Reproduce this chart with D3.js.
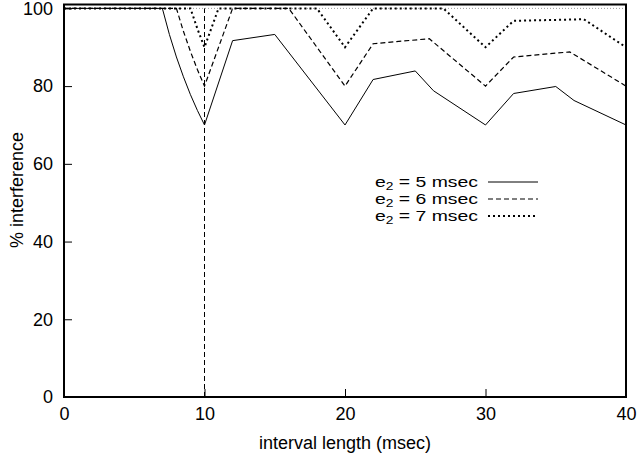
<!DOCTYPE html>
<html>
<head>
<meta charset="utf-8">
<script src="https://cdn.jsdelivr.net/npm/d3@7"></script>
<style>
  body { margin: 0; background: #fff; }
  text { font-family: "Liberation Sans", Arial, Helvetica, sans-serif; fill: #000; }
</style>
</head>
<body>
<div id="chart"></div>
<script>
// interference vs interval length, one series per e2

// x ticks / y ticks
let xTicks = [0, 10, 20, 30, 40];
let yTicks = [0, 20, 40, 60, 80, 100];

// e2 = 5 msec (solid)
let e5x = [0, 7, 7.5, 8, 8.5, 9, 9.5, 10, 12, 15, 20, 22, 25, 26.3, 30, 32, 35, 36.3, 40];
let e5y = [100, 100, 93.3, 87.5, 82.4, 77.8, 73.7, 70, 91.7, 93.3, 70, 81.7, 83.9, 78.8, 70, 78.1, 79.9, 76.3, 70];

// e2 = 6 msec (dashed)
let e6x = [0, 8, 8.5, 9, 9.5, 10, 12, 16, 20, 22, 26, 30, 32, 36, 40];
let e6y = [100, 100, 94.1, 88.9, 84.2, 80, 100, 100, 80, 90.9, 92.2, 80, 87.5, 88.8, 80];

// e2 = 7 msec (dotted)
let e7x = [0, 9, 9.5, 10, 11, 18, 20, 22, 27, 30, 32, 37, 40];
let e7y = [100, 100, 94.7, 90, 100, 100, 90, 100, 100, 90, 96.8, 97.2, 90];

let seriesNames = ["5", "6", "7"];
let dashes = [null, "5,3", "2,3"];
let widths = [1, 1.2, 2];

let series = [
  {x: e5x, y: e5y},
  {x: e6x, y: e6y},
  {x: e7x, y: e7y}
];

let w = 641, h = 456;
let margin = {top: 4.5, right: 15, bottom: 59, left: 64};
let fs = "18px";

let svg = d3.select("#chart").append("svg")
  .attr("width", w)
  .attr("height", h);

let x = d3.scaleLinear().domain([0, 40]).range([margin.left, w - margin.right]);
let y = d3.scaleLinear().domain([0, 101]).range([h - margin.bottom, margin.top]);

// faint reference line at 100
svg.append("line")
  .attr("x1", x(0)).attr("x2", x(40))
  .attr("y1", y(100)).attr("y2", y(100))
  .attr("stroke", "#999")
  .attr("stroke-width", 1)
  .attr("stroke-dasharray", "1,2");

// vertical marker at 10
svg.append("line")
  .attr("x1", x(10)).attr("x2", x(10))
  .attr("y1", y(0)).attr("y2", y(100))
  .attr("stroke", "#000")
  .attr("stroke-width", 1)
  .attr("stroke-dasharray", "5,3");

let line = d3.line()
  .x(function(d) { return x(d[0]); })
  .y(function(d) { return y(d[1]); });

series.forEach(function(s, i) {
  let pts = s.x.map(function(v, j) { return [v, s.y[j]]; });
  svg.append("path")
    .attr("d", line(pts))
    .attr("fill", "none")
    .attr("stroke", "#000")
    .attr("stroke-width", widths[i])
    .attr("stroke-dasharray", dashes[i]);
});

// frame
svg.append("rect")
  .attr("x", x(0)).attr("y", y(101))
  .attr("width", x(40) - x(0))
  .attr("height", y(0) - y(101))
  .attr("fill", "none")
  .attr("stroke", "#000")
  .attr("stroke-width", 2);

// axes with inward ticks
let xAxis = svg.append("g")
  .attr("transform", "translate(0," + y(0) + ")")
  .call(d3.axisBottom(x).tickValues(xTicks).tickSize(-8).tickPadding(10));
let yAxis = svg.append("g")
  .attr("transform", "translate(" + x(0) + ",0)")
  .call(d3.axisLeft(y).tickValues(yTicks).tickSize(-8).tickPadding(12));

[xAxis, yAxis].forEach(function(a) {
  a.select(".domain").remove();
  a.selectAll(".tick line").attr("stroke", "#000").attr("stroke-width", 1);
  a.selectAll(".tick text").style("font-size", fs).attr("fill", "#000");
});
yAxis.selectAll(".tick text").attr("x", -11);

// axis titles
svg.append("text")
  .attr("x", 345)
  .attr("y", 449)
  .attr("text-anchor", "middle")
  .style("font-size", fs)
  .text("interval length (msec)");

svg.append("text")
  .attr("transform", "translate(23," + 190 + ")rotate(-90)")
  .attr("text-anchor", "middle")
  .style("font-size", fs)
  .text("% interference");

// legend, squeezed a bit so the rows sit as tight as the original
let legend = svg.append("g");
seriesNames.forEach(function(n, i) {
  let ly = 182 + i * 17;
  let t = legend.append("text")
    .attr("x", 375)
    .attr("y", ly + 5)
    .attr("textLength", 103)
    .attr("lengthAdjust", "spacingAndGlyphs")
    .style("font-size", "15.5px");
  t.append("tspan").text("e");
  t.append("tspan").attr("dy", 3).style("font-size", "11px").text("2");
  t.append("tspan").attr("dy", -3).text(" = " + n + " msec");

  legend.append("line")
    .attr("x1", 488).attr("x2", 538)
    .attr("y1", ly).attr("y2", ly)
    .attr("stroke", "#000")
    .attr("stroke-width", widths[i])
    .attr("stroke-dasharray", dashes[i]);
});
</script>
</body>
</html>
